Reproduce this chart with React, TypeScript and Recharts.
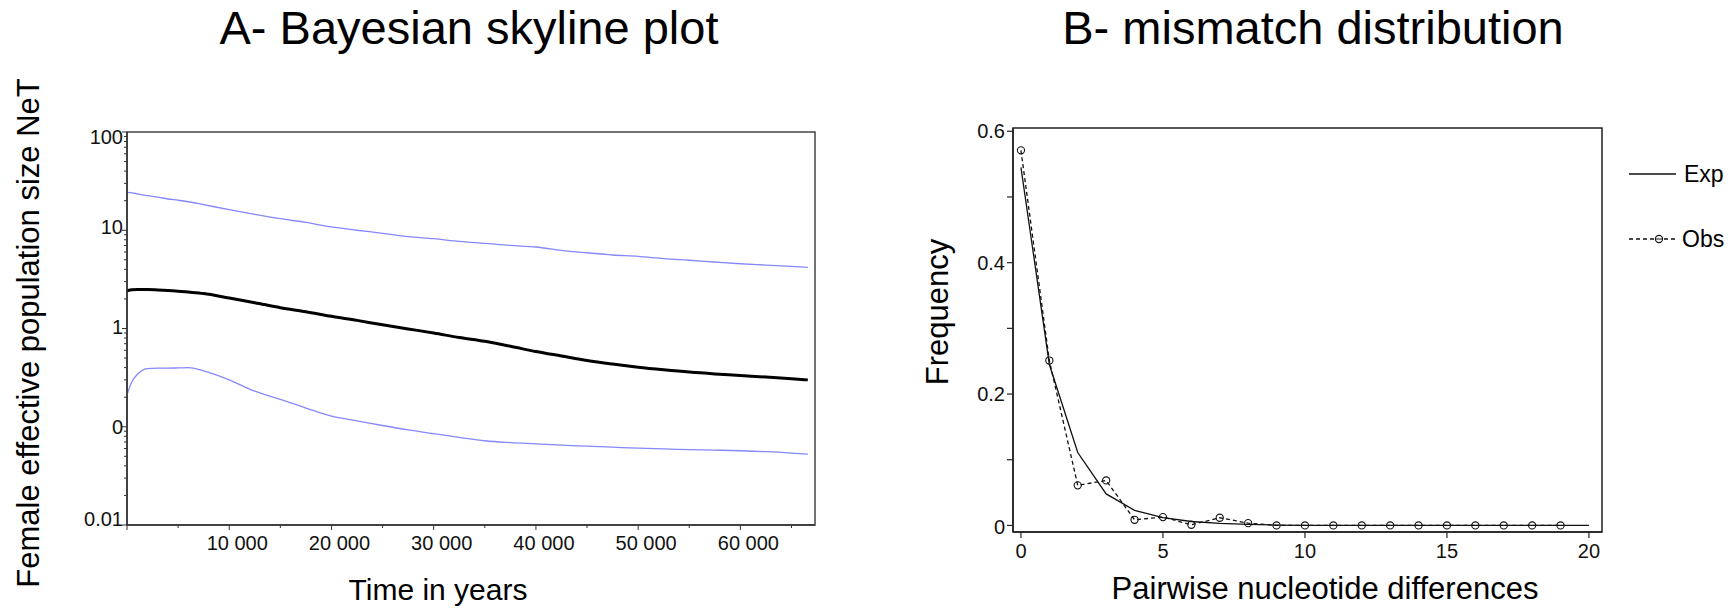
import React from 'react';
import { LineChart, Line, XAxis, YAxis, ReferenceArea } from 'recharts';

const FONT = '"Liberation Sans", Arial, Helvetica, sans-serif';

// ---------- Panel A: Bayesian skyline ----------
const timeYears = [0, 500, 1000, 2000, 3000, 4000, 5000, 6000, 7500, 10000, 12500, 15000, 17500, 20000, 22500, 25000, 27500, 30000, 32500, 35000, 37500, 40000, 42500, 45000, 47500, 50000, 52500, 55000, 57500, 60000, 62500, 65000, 66600];
const upper95 = [24.3, 24.0, 23.5, 22.5, 21.7, 20.8, 20.2, 19.5, 18.2, 16.2, 14.5, 13.1, 12.0, 10.8, 10.0, 9.3, 8.6, 8.2, 7.7, 7.35, 7.0, 6.75, 6.25, 5.9, 5.6, 5.42, 5.15, 4.95, 4.75, 4.56, 4.42, 4.28, 4.19];
const medianNe = [2.42, 2.48, 2.5, 2.5, 2.47, 2.43, 2.4, 2.35, 2.27, 2.04, 1.83, 1.63, 1.48, 1.33, 1.21, 1.09, 0.99, 0.9, 0.81, 0.74, 0.66, 0.583, 0.525, 0.473, 0.435, 0.404, 0.38, 0.36, 0.345, 0.333, 0.32, 0.308, 0.3];
const lower95 = [0.211, 0.29, 0.34, 0.39, 0.395, 0.395, 0.397, 0.4, 0.37, 0.3, 0.23, 0.19, 0.155, 0.128, 0.115, 0.103, 0.093, 0.085, 0.078, 0.072, 0.069, 0.067, 0.065, 0.0635, 0.062, 0.0605, 0.0595, 0.0585, 0.0578, 0.057, 0.0558, 0.054, 0.0526];

const neMajorTicks = [0.01, 0.1, 1, 10, 100];
const neMajorLabels = ['0.01', '0', '1', '10', '100'];
const neMinorTicks = [0.02, 0.03, 0.04, 0.05, 0.06, 0.07, 0.08, 0.09, 0.2, 0.3, 0.4, 0.5, 0.6, 0.7, 0.8, 0.9, 2, 3, 4, 5, 6, 7, 8, 9, 20, 30, 40, 50, 60, 70, 80, 90];
const timeTicks = [0, 5000, 10000, 15000, 20000, 25000, 30000, 35000, 40000, 45000, 50000, 55000, 60000, 65000];
const timeLabelTicks = [10000, 20000, 30000, 40000, 50000, 60000];
const timeLabels = ['10 000', '20 000', '30 000', '40 000', '50 000', '60 000'];

// ---------- Panel B: mismatch distribution ----------
const diffs = [0, 1, 2, 3, 4, 5, 6, 7, 8, 9, 10, 11, 12, 13, 14, 15, 16, 17, 18, 19, 20];
const expFreq = [0.545, 0.245, 0.111, 0.048, 0.023, 0.012, 0.006, 0.003, 0.0015, 0.0006, 0, 0, 0, 0, 0, 0, 0, 0, 0, 0, 0];
const obsFreq = [0.571, 0.251, 0.061, 0.0685, 0.0086, 0.0127, 0.001, 0.0117, 0.0035, 0, 0, 0, 0, 0, 0, 0, 0, 0, 0, 0, null];
const freqTicks = [0, 0.1, 0.2, 0.3, 0.4, 0.5, 0.6];
const freqLabelTicks = [0, 0.2, 0.4, 0.6];
const freqLabels = ['0', '0.2', '0.4', '0.6'];
const diffTicks = [0, 5, 10, 15, 20];

const skyData = timeYears.map((t, i) => ({ t, upper: upper95[i], median: medianNe[i], lower: lower95[i] }));
const mismatchData = diffs.map((d, i) => ({ d, exp: expFreq[i], obs: obsFreq[i] }));
const neTicks = [...neMajorTicks, ...neMinorTicks].sort((a, b) => a - b);

const near = (a: number, b: number) => Math.abs(a - b) < 1e-9 * Math.max(1, Math.abs(b));

const LeftYTick = (props: any) => {
  const { x, y, payload } = props;
  const v = payload.value as number;
  const idx = neMajorTicks.findIndex((m) => near(m, v));
  const major = idx >= 0;
  const len = major ? 5 : 3;
  let dy = 7;
  if (near(v, 100)) dy = 12;
  if (near(v, 0.01)) dy = 1;
  if (near(v, 10)) dy = 4;
  if (near(v, 1)) dy = 5;
  return (
    <g>
      <line x1={x - len} x2={x} y1={y} y2={y} stroke="#333" strokeWidth={1} />
      {major && (
        <text x={x - 4} y={y + dy} textAnchor="end" fontSize={20} fontFamily={FONT} fill="#111">
          {neMajorLabels[idx]}
        </text>
      )}
    </g>
  );
};

const LeftXTick = (props: any) => {
  const { x, y, payload } = props;
  const v = payload.value as number;
  const major = v % 10000 === 0;
  const len = major ? 5 : 3;
  const idx = timeLabelTicks.indexOf(v);
  return (
    <g>
      <line x1={x} x2={x} y1={y} y2={y + len} stroke="#333" strokeWidth={1} />
      {idx >= 0 && (
        <text x={x + 8} y={y + 25} textAnchor="middle" fontSize={20} fontFamily={FONT} fill="#111">
          {timeLabels[idx]}
        </text>
      )}
    </g>
  );
};

const RightYTick = (props: any) => {
  const { x, y, payload } = props;
  const v = payload.value as number;
  const idx = freqLabelTicks.findIndex((m) => near(m, v));
  return (
    <g>
      <line x1={x - 6} x2={x} y1={y} y2={y} stroke="#222" strokeWidth={1.2} />
      {idx >= 0 && (
        <text x={x - 8} y={y + (v === 0 ? 9 : 7)} textAnchor="end" fontSize={20} fontFamily={FONT} fill="#111">
          {freqLabels[idx]}
        </text>
      )}
    </g>
  );
};

const RightXTick = (props: any) => {
  const { x, y, payload } = props;
  const v = payload.value as number;
  return (
    <g>
      <line x1={x} x2={x} y1={y} y2={y + 6} stroke="#222" strokeWidth={1.2} />
      <text x={x} y={y + 26} textAnchor="middle" fontSize={20} fontFamily={FONT} fill="#111">
        {String(v)}
      </text>
    </g>
  );
};

const ObsDot = (props: any) => {
  const { cx, cy, value } = props;
  if (cx == null || cy == null || value == null) return <g />;
  return <circle cx={cx} cy={cy} r={3.6} fill="none" stroke="#111" strokeWidth={1.1} />;
};

export default function App() {
  return (
    <div style={{ position: 'absolute', left: 0, top: 0, width: 1736, height: 610, background: '#fff', fontFamily: FONT }}>
      <div style={{ position: 'absolute', left: 0, top: 0 }}>
        <LineChart width={880} height={610} data={skyData} margin={{ top: 132, right: 65, bottom: 55, left: 67 }}>
          <ReferenceArea x1={0} x2={67300} y1={0.01} y2={100} fill="none" stroke="#444" strokeWidth={1.5} ifOverflow="visible" />
          <XAxis
            dataKey="t"
            type="number"
            domain={[0, 67300]}
            allowDataOverflow
            ticks={timeTicks}
            interval={0}
            height={30}
            tickSize={0}
            tickMargin={0}
            tickLine={false}
            axisLine={{ stroke: '#333', strokeWidth: 1.5 }}
            tick={<LeftXTick />}
          />
          <YAxis
            type="number"
            scale="log"
            domain={[0.01, 100]}
            allowDataOverflow
            ticks={neTicks}
            interval={0}
            width={60}
            tickSize={0}
            tickMargin={0}
            tickLine={false}
            axisLine={{ stroke: '#333', strokeWidth: 1.5 }}
            tick={<LeftYTick />}
          />
          <Line dataKey="upper" type="monotone" stroke="#8787ff" strokeWidth={1.3} dot={false} activeDot={false} isAnimationActive={false} />
          <Line dataKey="lower" type="monotone" stroke="#8787ff" strokeWidth={1.3} dot={false} activeDot={false} isAnimationActive={false} />
          <Line dataKey="median" type="monotone" stroke="#000" strokeWidth={3} dot={false} activeDot={false} isAnimationActive={false} />
        </LineChart>
      </div>
      <div style={{ position: 'absolute', left: 880, top: 0 }}>
        <LineChart width={856} height={610} data={mismatchData} margin={{ top: 128, right: 134, bottom: 48, left: 73 }}>
          <ReferenceArea x1={-0.28} x2={20.46} y1={-0.01} y2={0.605} fill="none" stroke="#222" strokeWidth={1.5} ifOverflow="visible" />
          <XAxis
            dataKey="d"
            type="number"
            domain={[-0.28, 20.46]}
            allowDataOverflow
            ticks={diffTicks}
            interval={0}
            height={30}
            tickSize={0}
            tickMargin={0}
            tickLine={false}
            axisLine={{ stroke: '#222', strokeWidth: 1.5 }}
            tick={<RightXTick />}
          />
          <YAxis
            type="number"
            domain={[-0.01, 0.605]}
            allowDataOverflow
            ticks={freqTicks}
            interval={0}
            width={60}
            tickSize={0}
            tickMargin={0}
            tickLine={false}
            axisLine={{ stroke: '#222', strokeWidth: 1.5 }}
            tick={<RightYTick />}
          />
          <Line dataKey="exp" type="linear" stroke="#111" strokeWidth={1.3} dot={false} activeDot={false} isAnimationActive={false} />
          <Line dataKey="obs" type="linear" stroke="#111" strokeWidth={1.3} strokeDasharray="4 3" dot={<ObsDot />} activeDot={false} isAnimationActive={false} />
        </LineChart>
      </div>
      <svg width={1736} height={610} style={{ position: 'absolute', left: 0, top: 0, pointerEvents: 'none' }}>
        <g fontFamily={FONT} fill="#000">
          <text x={469} y={44} textAnchor="middle" fontSize={47}>A- Bayesian skyline plot</text>
          <text x={1313} y={44} textAnchor="middle" fontSize={47}>B- mismatch distribution</text>
          <text x={438} y={600} textAnchor="middle" fontSize={30}>Time in years</text>
          <text x={1325} y={599} textAnchor="middle" fontSize={31}>Pairwise nucleotide differences</text>
          <text x={39} y={333} textAnchor="middle" fontSize={31} transform="rotate(-90 39 333)">Female effective population size NeT</text>
          <text x={948} y={312} textAnchor="middle" fontSize={31} transform="rotate(-90 948 312)">Frequency</text>
          <line x1={1629} x2={1676} y1={174} y2={174} stroke="#111" strokeWidth={1.3} />
          <text x={1684} y={182} fontSize={23}>Exp</text>
          <line x1={1629} x2={1676} y1={239} y2={239} stroke="#111" strokeWidth={1.3} strokeDasharray="4 3" />
          <circle cx={1659} cy={239} r={3.6} fill="#fff" stroke="#111" strokeWidth={1.1} />
          <line x1={1655} x2={1663} y1={239} y2={239} stroke="#111" strokeWidth={1} />
          <text x={1682} y={247} fontSize={23}>Obs</text>
        </g>
      </svg>
    </div>
  );
}
